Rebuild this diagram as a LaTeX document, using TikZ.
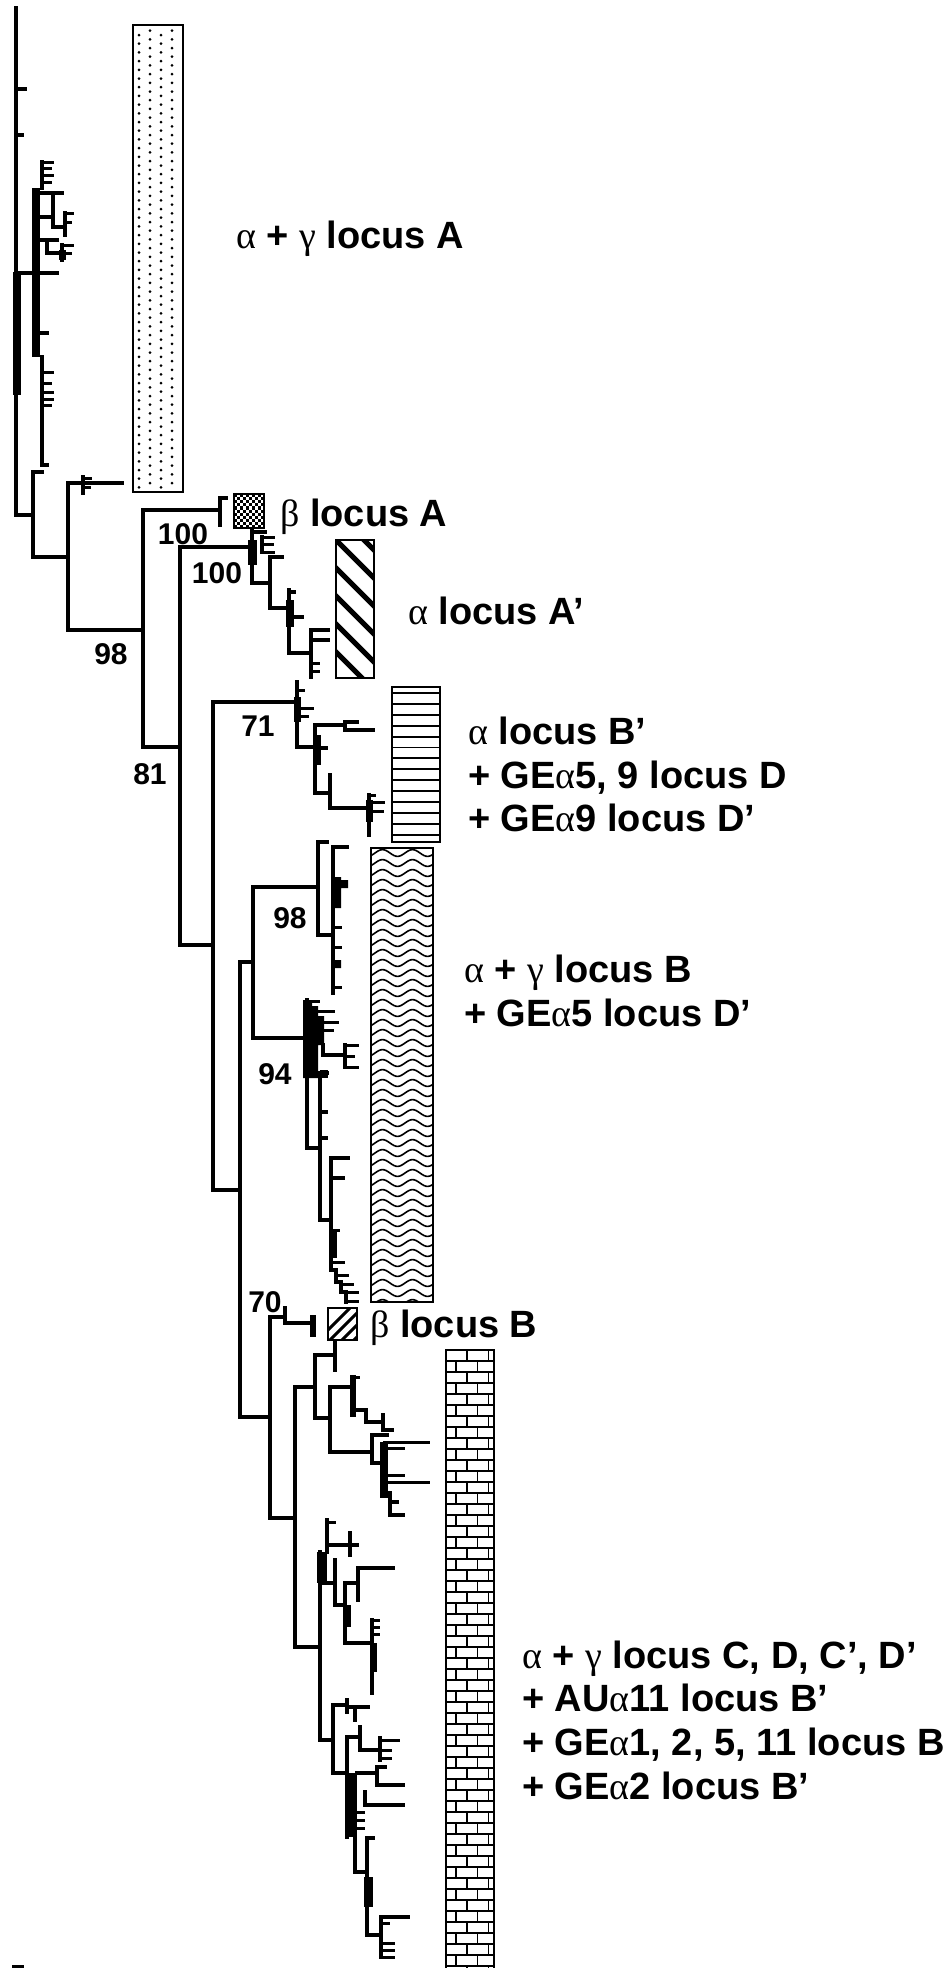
\documentclass[tikz,border=0pt]{standalone}
\usepackage{fontspec}
\setmainfont{Liberation Sans}
\newfontfamily\grk{Liberation Serif}
\newcommand\grl[1]{{\grk\mdseries #1}}

\begin{document}
\begin{tikzpicture}[
        x=1pt, y=-1pt,
        br/.style={line width=3.6pt, line cap=rect},
        tip/.style={line width=3pt, line cap=rect},
        frame/.style={draw, line width=1.8pt},
        fine/.style={line width=1.9pt},
        lbl/.style={anchor=base west, inner sep=0pt,
            font=\fontsize{38}{44}\selectfont\bfseries},
        boot/.style={inner sep=0pt,
            font=\fontsize{30}{32}\selectfont\bfseries}
    ]

    \useasboundingbox (0,0) rectangle (952,1968);

    % locus A
    \draw[br] (16,8) -- (16,515) -- (33,515);
    \draw[br] (16,89) -- (25,89) (16,135) -- (22,135);
    \fill (13,272) rectangle (21,395);
    \draw[br] (20,273) -- (33,273);
    \fill (32,188) rectangle (40,357);
    \draw[br] (42,162) -- (42,188) (42,357) -- (42,465) -- (47,465);
    \draw[tip] (42,162) -- (52,162) (42,168) -- (50,168) (42,175) -- (52,175) (42,182) -- (50,182);
    \draw[br] (40,193) -- (62,193) (53,193) -- (53,203);
    \draw[br] (40,217) -- (53,217) (53,207) -- (53,227) -- (65,227) (65,213) -- (65,235);
    \draw[tip] (65,213) -- (72,213) (65,222) -- (70,222);
    \draw[br] (40,240) -- (57,240) (47,240) -- (47,253) -- (62,253) (62,245) -- (62,260);
    \fill (59,250) rectangle (66,260);
    \draw[tip] (62,245) -- (72,245) (62,253) -- (70,253);
    \draw[br] (40,273) -- (57,273) (42,333) -- (47,333);
    \draw[tip] (42,372) -- (52,372) (42,383) -- (50,383) (42,392) -- (52,392) (42,399) -- (52,399) (42,405) -- (50,405);
    \draw[br] (33,472) -- (33,557) (33,472) -- (42,472) (33,557) -- (68,557);
    \draw[br] (68,483) -- (68,630) -- (143,630) (68,483) -- (122,483);
    \draw[br] (83,477) -- (83,493);
    \draw[tip] (83,478) -- (90,478) (83,487) -- (89,487);

    % beta A, alpha A'
    \draw[br] (143,510) -- (143,747) -- (180,747) (143,510) -- (220,510) (220,498) -- (220,525) (220,498) -- (226,498);
    \draw[br] (180,547) -- (180,945) -- (213,945) (180,547) -- (252,547);
    \fill (248,540) rectangle (257,565);
    \draw[br] (252,530) -- (252,583) -- (270,583) (252,532) -- (265,532) (262,537) -- (262,552);
    \draw[tip] (262,537) -- (273,537) (262,544) -- (272,544) (262,552) -- (273,552);
    \draw[br] (270,557) -- (270,608) -- (289,608) (270,557) -- (282,557);
    \draw[br] (289,590) -- (289,653) -- (311,653) (289,592) -- (294,592) (289,617) -- (302,617);
    \fill (286,600) rectangle (294,627);
    \draw[br] (311,630) -- (311,677) (311,630) -- (328,630) (311,640) -- (328,640);
    \draw[tip] (311,663) -- (318,663) (311,671) -- (318,671);

    % alpha B'
    \draw[br] (213,702) -- (213,1190) -- (240,1190) (213,702) -- (297,702);
    \draw[br] (297,682) -- (297,747) -- (315,747);
    \fill (294,697) rectangle (301,722);
    \draw[tip] (297,690) -- (303,690) (297,708) -- (312,708) (297,716) -- (307,716);
    \draw[br] (315,725) -- (315,793) -- (330,793) (315,725) -- (345,725) (345,722) -- (345,730) -- (373,730) (345,722) -- (357,722) (315,748) -- (326,748);
    \fill (313,735) rectangle (321,765);
    \draw[br] (330,775) -- (330,808) -- (368,808) (369,795) -- (369,835);
    \fill (366,800) rectangle (373,822);
    \draw[tip] (369,795) -- (374,795) (369,802) -- (383,802) (369,811) -- (382,811);

    % alpha+gamma B
    \draw[br] (240,962) -- (240,1417) -- (270,1417) (240,962) -- (253,962);
    \draw[br] (253,887) -- (253,1038) -- (307,1038) (253,887) -- (318,887);
    \draw[br] (318,842) -- (318,935) -- (333,935) (318,842) -- (327,842);
    \draw[br] (333,847) -- (333,993) (333,847) -- (347,847);
    \fill (331,877) rectangle (341,908) (331,880) rectangle (348,888) (333,960) rectangle (341,968);
    \draw[tip] (333,927) -- (340,927) (333,947) -- (340,947) (333,987) -- (340,987);
    \draw[br] (307,1000) -- (307,1148) -- (320,1148);
    \fill (303,1000) -- (312,1000) -- (312,1006) -- (318,1006) -- (318,1016) -- (324,1016)
        -- (324,1045) -- (318,1045) -- (318,1078) -- (303,1078) -- cycle;
    \draw[tip] (312,1001) -- (318,1001) (318,1011) -- (333,1011) (318,1022) -- (337,1022) (324,1030) -- (332,1030);
    \draw[br] (323,1045) -- (323,1055) -- (345,1055) (345,1045) -- (345,1067);
    \draw[tip] (345,1045) -- (357,1045) (345,1056) -- (353,1056) (345,1067) -- (357,1067);
    \draw[br] (320,1073) -- (320,1220) -- (331,1220) (320,1073) -- (327,1073) (320,1112) -- (326,1112) (320,1138) -- (326,1138);
    \fill (320,1070) rectangle (328,1078);
    \draw[br] (331,1158) -- (331,1262) (331,1158) -- (348,1158) (331,1178) -- (343,1178);
    \fill (329,1230) rectangle (337,1258);
    \draw[br] (331,1255) -- (331,1270) -- (336,1270) -- (336,1282) -- (341,1282) -- (341,1292) -- (346,1292) -- (346,1302);
    \draw[tip] (331,1230) -- (338,1230) (333,1262) -- (343,1262) (336,1275) -- (347,1275) (341,1284) -- (352,1284) (346,1292) -- (357,1292) (346,1301) -- (357,1301);

    % beta B
    \draw[br] (270,1317) -- (270,1518) -- (295,1518) (270,1317) -- (285,1317) (285,1308) -- (285,1323) -- (311,1323);
    \draw[line width=6pt] (313,1315) -- (313,1337);

    % alpha+gamma C, D
    \draw[br] (295,1387) -- (295,1647) -- (320,1647) (295,1387) -- (315,1387);
    \draw[br] (315,1355) -- (315,1418) -- (330,1418) (315,1355) -- (335,1355) (335,1342) -- (335,1370);
    \draw[br] (330,1387) -- (330,1452) -- (372,1452) (330,1387) -- (352,1387);
    \fill (350,1375) rectangle (356,1417);
    \draw[br] (353,1410) -- (366,1410) -- (366,1422) -- (383,1422) (383,1415) -- (383,1430) -- (392,1430);
    \draw[tip] (353,1377) -- (358,1377);
    \draw[br] (372,1435) -- (372,1463) -- (382,1463) (372,1435) -- (387,1435);
    \fill (380,1442) rectangle (388,1498);
    \draw[tip] (384,1442) -- (428,1442) (384,1448) -- (403,1448) (384,1475) -- (403,1475) (384,1482) -- (428,1482);
    \draw[br] (390,1493) -- (390,1515) -- (403,1515) (390,1502) -- (397,1502);
    \draw[br] (320,1552) -- (320,1740) -- (333,1740);
    \fill (317,1552) rectangle (327,1583);
    \draw[br] (327,1520) -- (327,1552) (327,1545) -- (357,1545) (350,1533) -- (350,1555);
    \draw[tip] (327,1522) -- (334,1522);
    \draw[br] (320,1583) -- (335,1583) (335,1560) -- (335,1605) -- (345,1605) (345,1583) -- (345,1643) -- (372,1643)
        (345,1583) -- (358,1583) (358,1568) -- (358,1600) (358,1568) -- (393,1568);
    \fill (343,1605) rectangle (351,1627);
    \draw[br] (372,1620) -- (372,1693);
    \fill (370,1643) rectangle (377,1672);
    \draw[tip] (372,1620) -- (378,1620) (372,1627) -- (378,1627) (372,1634) -- (378,1634);
    \draw[br] (333,1705) -- (333,1773) -- (347,1773) (333,1705) -- (347,1705) (347,1700) -- (347,1712) (347,1707) -- (368,1707) (355,1707) -- (355,1720);
    \draw[br] (347,1737) -- (347,1837) (347,1737) -- (360,1737) (360,1727) -- (360,1750) -- (380,1750) (380,1738) -- (380,1760);
    \fill (345,1773) rectangle (357,1837);
    \draw[tip] (380,1740) -- (398,1740) (380,1750) -- (390,1750) (380,1758) -- (390,1758);
    \draw[br] (357,1773) -- (377,1773) (377,1767) -- (377,1783) (377,1767) -- (385,1767) (377,1785) -- (403,1785);
    \draw[br] (365,1792) -- (365,1805) -- (403,1805);
    \draw[tip] (357,1812) -- (363,1812) (357,1820) -- (363,1820) (357,1828) -- (363,1828);
    \draw[br] (355,1837) -- (355,1872) -- (367,1872) (367,1838) -- (367,1935) -- (381,1935) (367,1838) -- (373,1838);
    \fill (364,1877) rectangle (373,1907);
    \draw[br] (381,1917) -- (381,1957) (381,1917) -- (408,1917);
    \draw[tip] (381,1923) -- (388,1923) (381,1943) -- (393,1943) (381,1950) -- (393,1950) (381,1957) -- (393,1957);
    \draw[tip] (13,1966) -- (22,1966);

    % bars
    \foreach \i in {0,...,52} {
        \fill (139,{35+8.7*\i}) circle (1.5pt) (161,{35+8.7*\i}) circle (1.5pt);
        \fill (150,{30.6+8.7*\i}) circle (1.5pt) (172,{30.6+8.7*\i}) circle (1.5pt);
    }
    \draw[frame] (133,25) rectangle (183,492);

    \foreach \i in {0,...,9} \foreach \j in {0,...,10} {
        \pgfmathtruncatemacro\k{mod(\i+\j,2)}
        \ifnum\k=0 \fill ({234+3*\i},{494+3.1*\j}) rectangle +(3,3.1); \fi
    }
    \draw[frame] (234,494) rectangle (264,528);

    \begin{scope}
        \clip (336,540) rectangle (374,678);
        \foreach \k in {-2,...,5} \draw[line width=5pt] (326,{530+28*\k}) -- +(70,70);
    \end{scope}
    \draw[frame] (336,540) rectangle (374,678);

    \foreach \k in {0,...,13} \draw[fine] (392,{693+10.9*\k}) -- (440,{693+10.9*\k});
    \draw[frame] (392,687) rectangle (440,842);

    \begin{scope}
        \clip (371,848) rectangle (433,1302);
        \foreach \k in {0,...,45}
            \draw[line width=1.6pt] plot[domain=366:438, samples=37] (\x,{853+10*\k+3.4*sin(12*\x)});
    \end{scope}
    \draw[frame] (371,848) rectangle (433,1302);

    \begin{scope}
        \clip (328,1308) rectangle (357,1340);
        \foreach \k in {0,...,4} \draw[line width=3pt] ({310+12*\k},1348) -- +(45,-45);
    \end{scope}
    \draw[frame] (328,1308) rectangle (357,1340);

    \begin{scope}
        \clip (446,1350) rectangle (494,1975);
        \foreach \k in {0,...,56} {
            \draw[fine] (446,{1350+11*\k}) -- (494,{1350+11*\k});
            \pgfmathtruncatemacro\m{mod(\k,2)}
            \ifnum\m=0
                \draw[fine] (467,{1350+11*\k}) -- +(0,11) (488.5,{1350+11*\k}) -- +(0,11);
            \else
                \draw[fine] (456,{1350+11*\k}) -- +(0,11) (477.5,{1350+11*\k}) -- +(0,11);
            \fi
        }
    \end{scope}
    \draw[frame] (446,1350) rectangle (494,1985);

    % labels
    \node[lbl] (lblA) at (236,248) {\grl{α} + \grl{γ} locus A};
    \node[lbl] (lblbA) at (280,526) {\grl{β} locus A};
    \node[lbl] (lblaA) at (408,624) {\grl{α} locus A’};
    \node[lbl] (lblB1) at (468,744) {\grl{α} locus B’};
    \node[lbl] (lblB2) at (468,788) {+ GE\grl{α}5, 9 locus D};
    \node[lbl] (lblB3) at (468,831) {+ GE\grl{α}9 locus D’};
    \node[lbl] (lblC1) at (464,982) {\grl{α} + \grl{γ} locus B};
    \node[lbl] (lblC2) at (464,1026) {+ GE\grl{α}5 locus D’};
    \node[lbl] (lblbB) at (370,1337) {\grl{β} locus B};
    \node[lbl] (lblD1) at (522,1668) {\grl{α} + \grl{γ} locus C, D, C’, D’};
    \node[lbl] (lblD2) at (522,1711) {+ AU\grl{α}11 locus B’};
    \node[lbl] (lblD3) at (522,1755) {+ GE\grl{α}1, 2, 5, 11 locus B};
    \node[lbl] (lblD4) at (522,1799) {+ GE\grl{α}2 locus B’};

    \node[boot] (bsA) at (183,534) {100};
    \node[boot] (bsB) at (217,573) {100};
    \node[boot] (bsC) at (111,654) {98};
    \node[boot] (bsD) at (150,774) {81};
    \node[boot] (bsE) at (258,726) {71};
    \node[boot] (bsF) at (290,918) {98};
    \node[boot] (bsG) at (275,1074) {94};
    \node[boot] (bsH) at (265,1302) {70};

\end{tikzpicture}
\end{document}
